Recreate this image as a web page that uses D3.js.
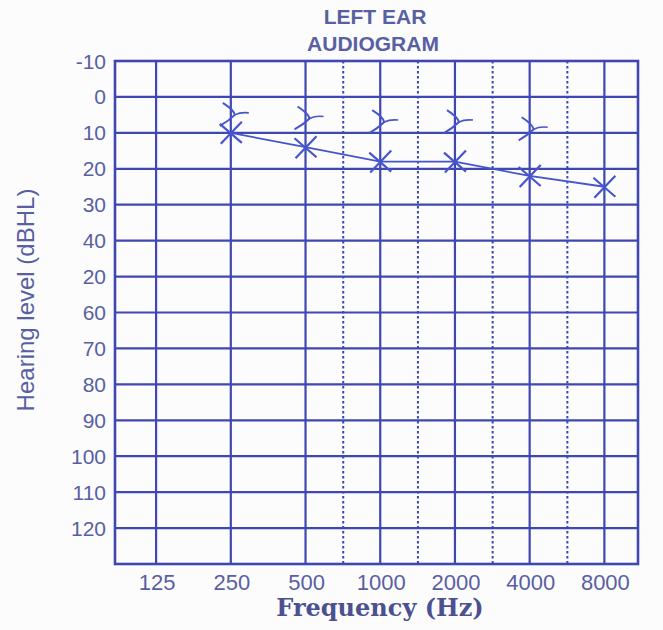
<!DOCTYPE html>
<html><head><meta charset="utf-8">
<script src="https://cdn.jsdelivr.net/npm/d3@7/dist/d3.min.js"></script>
<style>html,body{margin:0;padding:0;background:#fcfcfd;}svg{display:block;}</style>
</head><body>
<svg id="chart" width="663" height="630"></svg>
<script>
// ---- data ----
const freqTicks = [125, 250, 500, 1000, 2000, 4000, 8000];
const freqTickLabels = ["125", "250", "500", "1000", "2000", "4000", "8000"];
const midFreqs = [750, 1500, 3000, 6000];
const dbTicks = [-10, 0, 10, 20, 30, 40, 50, 60, 70, 80, 90, 100, 110, 120];
const dbTickLabels = ["-10", "0", "10", "20", "30", "40", "20", "60", "70", "80", "90", "100", "110", "120"];
const airFreqs = [250, 500, 1000, 2000, 4000, 8000];
const airLevels = [10, 14, 18, 18, 22, 25];
const boneFreqs = [250, 500, 1000, 2000, 4000];
const boneLevels = [5, 6, 7, 7, 9];

// ---- layout ----
const L = 115, R = 638, T = 61, B = 564;
const gridColor = "#3e47b2", textColor = "#5860a2", penColor = "#4655cc";
const x = d3.scaleLog().domain([125 / Math.pow(2, 0.55), 8000 * Math.pow(2, 0.45)]).range([L, R]);
const y = d3.scaleLinear().domain([-10, 130]).range([T, B]);
const svg = d3.select("#chart");
const sans = "Liberation Sans, Arial, sans-serif";

// title
svg.append("text").attr("x", 375).attr("y", 24).attr("text-anchor", "middle")
  .attr("font-family", sans).attr("font-weight", "bold")
  .attr("font-size", 21).attr("fill", textColor).text("LEFT EAR");
svg.append("text").attr("x", 373).attr("y", 51).attr("text-anchor", "middle")
  .attr("font-family", sans).attr("font-weight", "bold")
  .attr("font-size", 21).attr("fill", textColor).text("AUDIOGRAM");

const g = svg.append("g");
// horizontal grid
g.selectAll("line.h").data(d3.range(-10, 131, 10)).enter().append("line")
  .attr("x1", L).attr("x2", R).attr("y1", d => y(d)).attr("y2", d => y(d))
  .attr("stroke", gridColor).attr("stroke-width", 2.2);
// vertical solid
g.selectAll("line.v").data(freqTicks).enter().append("line")
  .attr("x1", d => x(d)).attr("x2", d => x(d)).attr("y1", T).attr("y2", B)
  .attr("stroke", gridColor).attr("stroke-width", 2.2);
// vertical dashed
g.selectAll("line.vd").data(midFreqs).enter().append("line")
  .attr("x1", d => x(d) - 6).attr("x2", d => x(d) - 6).attr("y1", T).attr("y2", B)
  .attr("stroke", gridColor).attr("stroke-width", 2).attr("stroke-dasharray", "2.5,2.5");
// border
g.append("rect").attr("x", L).attr("y", T).attr("width", R - L).attr("height", B - T)
  .attr("fill", "none").attr("stroke", gridColor).attr("stroke-width", 2.6);

// y tick labels
svg.selectAll("text.yt").data(dbTicks).enter().append("text")
  .attr("x", 106).attr("y", d => y(d)).attr("dy", "0.36em").attr("text-anchor", "end")
  .attr("font-family", sans).attr("font-size", 21)
  .attr("fill", textColor).text((d, i) => dbTickLabels[i]);
// x tick labels
svg.selectAll("text.xt").data(freqTicks).enter().append("text")
  .attr("x", d => x(d) + 1).attr("y", 590).attr("text-anchor", "middle")
  .attr("font-family", sans).attr("font-size", 22)
  .attr("fill", textColor).text((d, i) => freqTickLabels[i]);

// axis titles
svg.append("text").attr("transform", "translate(34,300) rotate(-90)").attr("text-anchor", "middle")
  .attr("font-family", sans).attr("font-size", 24)
  .attr("fill", textColor).text("Hearing level (dBHL)");
svg.append("text").attr("x", 380).attr("y", 616).attr("text-anchor", "middle")
  .attr("font-family", "DejaVu Serif, serif").attr("font-weight", "bold").attr("font-size", 24)
  .attr("fill", "#4b5090").text("Frequency (Hz)");

// air conduction line
const air = airFreqs.map((f, i) => [f, airLevels[i]]);
svg.append("path").datum(air)
  .attr("d", d3.line().x(d => x(d[0])).y(d => y(d[1])))
  .attr("fill", "none").attr("stroke", penColor).attr("stroke-width", 1.8);
// X markers
const xs = svg.selectAll("g.x").data(air).enter().append("g")
  .attr("transform", d => `translate(${x(d[0])},${y(d[1])})`);
xs.append("path").attr("d", "M-11,-9L11,10M11,-11L-10,11")
  .attr("stroke", penColor).attr("stroke-width", 2.2).attr("fill", "none");

// bone conduction '>' markers
const bone = boneFreqs.map((f, i) => [f, boneLevels[i]]);
const bs = svg.selectAll("g.b").data(bone).enter().append("g")
  .attr("transform", d => `translate(${x(d[0])},${y(d[1])})`);
bs.append("path").attr("d", "M-8,-12Q3,-5 4,0Q-2,6 -11,11")
  .attr("stroke", penColor).attr("stroke-width", 2).attr("fill", "none");
bs.append("path").attr("d", "M4,0Q10,-3 18,-2")
  .attr("stroke", penColor).attr("stroke-width", 1.6).attr("fill", "none");
</script>
</body></html>
